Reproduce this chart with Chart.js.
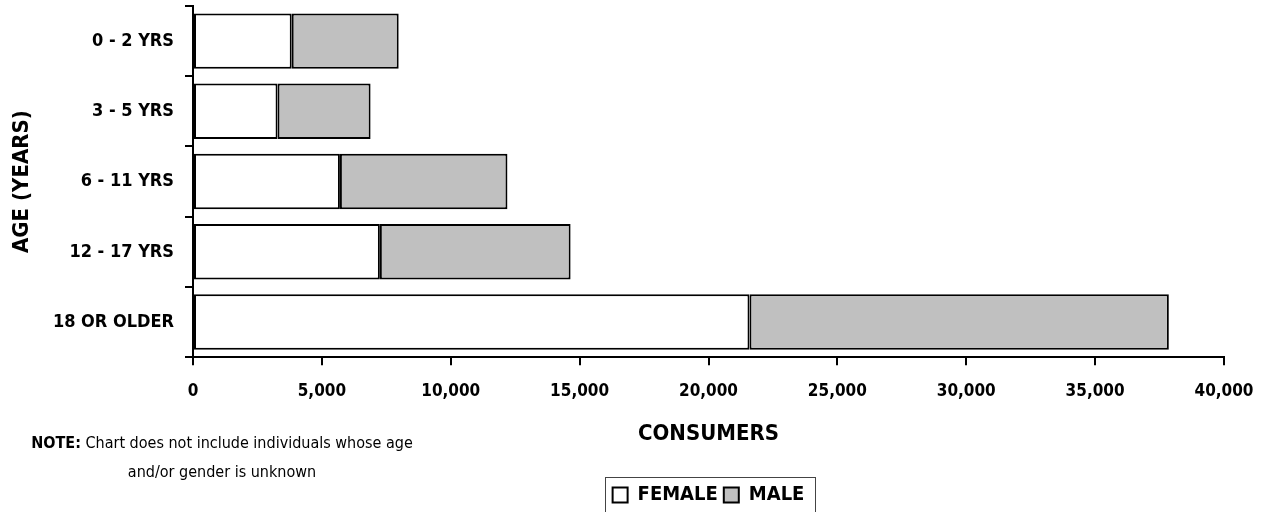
<!DOCTYPE html>
<html>
<head>
<meta charset="utf-8">
<script src="https://cdn.jsdelivr.net/npm/chart.js@4/dist/chart.umd.min.js"></script>
<style>
  body { margin: 0; background: #fff; }
  #wrap { position: relative; width: 1266px; height: 512px; }
  #note {
    position: absolute; left: 2px; top: 428px; width: 440px;
    text-align: center; white-space: nowrap;
    font-family: 'DejaVu Sans Condensed', 'Liberation Sans Narrow', sans-serif;
    font-size: 16px; line-height: 29px; color: #000;
  }
</style>
</head>
<body>
<div id="wrap">
  <canvas id="grafico" width="1266" height="512"></canvas>
  <div id="note"><b>NOTE:</b> Chart does not include individuals whose age<br>and/or gender is unknown</div>
</div>
<script>
// categorias e valores
const faixas = ['0 - 2 YRS', '3 - 5 YRS', '6 - 11 YRS', '12 - 17 YRS', '18 OR OLDER'];
const feminino = [3830, 3280, 5700, 7250, 21590];
const masculino = [4150, 3610, 6500, 7400, 16270];

const fonte = "'DejaVu Sans Condensed', 'Liberation Sans Narrow', sans-serif";
Chart.defaults.font.family = fonte;
Chart.defaults.color = '#000';

// moldura em volta da legenda
const caixaLegenda = {
    id: 'caixaLegenda',
    afterDraw(chart) {
        const leg = chart.legend;
        if (!leg || !leg.legendHitBoxes.length) return;
        const boxes = leg.legendHitBoxes;
        const esq = Math.min(...boxes.map(b => b.left)) - 8;
        const dir = Math.max(...boxes.map(b => b.left + b.width)) + 10;
        const meio = boxes[0].top + boxes[0].height / 2;
        const ctx = chart.ctx;
        ctx.save();
        ctx.strokeStyle = '#444';
        ctx.lineWidth = 1;
        ctx.strokeRect(Math.round(esq) + 0.5, Math.round(meio - 18) + 0.5, Math.round(dir - esq), 40);
        ctx.restore();
    }
};

const grafico = new Chart(
    document.getElementById('grafico'),
    {
        type: 'bar',
        data: {
            labels: faixas,
            datasets: [{
                label: 'FEMALE',
                data: feminino,
                backgroundColor: '#ffffff',
                borderColor: '#000',
                borderWidth: 2,
                borderSkipped: false
            }, {
                label: 'MALE',
                data: masculino,
                backgroundColor: '#c0c0c0',
                borderColor: '#000',
                borderWidth: 2,
                borderSkipped: false
            }]
        },
        options: {
            indexAxis: 'y',
            responsive: false,
            animation: false,
            barPercentage: 0.79,
            categoryPercentage: 1,
            layout: { padding: { left: 0, right: 42, top: 6, bottom: -3 } },
            scales: {
                x: {
                    stacked: true,
                    min: 0,
                    max: 40000,
                    ticks: {
                        stepSize: 5000,
                        padding: 16,
                        font: { size: 17, weight: 'bold' },
                        callback: v => v.toLocaleString('en-US')
                    },
                    grid: { drawOnChartArea: false, color: '#000', lineWidth: 2, tickLength: 8 },
                    border: { color: '#000', width: 2 },
                    title: {
                        display: true,
                        text: 'CONSUMERS',
                        font: { size: 22, weight: 'bold' },
                        padding: { top: 3, bottom: 32 }
                    },
                    afterFit(s) { s.paddingLeft = 0; s.paddingRight = 0; }
                },
                y: {
                    stacked: true,
                    ticks: { padding: 11, font: { size: 18, weight: 'bold' } },
                    grid: { drawOnChartArea: false, color: '#000', lineWidth: 2, tickLength: 8 },
                    border: { color: '#000', width: 2 },
                    title: {
                        display: true,
                        text: 'AGE (YEARS)',
                        font: { size: 22, weight: 'bold' },
                        padding: { top: 9, bottom: 0 }
                    },
                    afterFit(s) { s.width = 193; s.paddingTop = 0; s.paddingBottom = 0; }
                }
            },
            plugins: {
                legend: {
                    position: 'bottom',
                    fullSize: false,
                    labels: {
                        boxWidth: 15,
                        boxHeight: 15,
                        padding: 6,
                        font: { size: 20, weight: 'bold' }
                    }
                },
                tooltip: { enabled: false }
            }
        },
        plugins: [caixaLegenda]
    }
);
</script>
</body>
</html>
